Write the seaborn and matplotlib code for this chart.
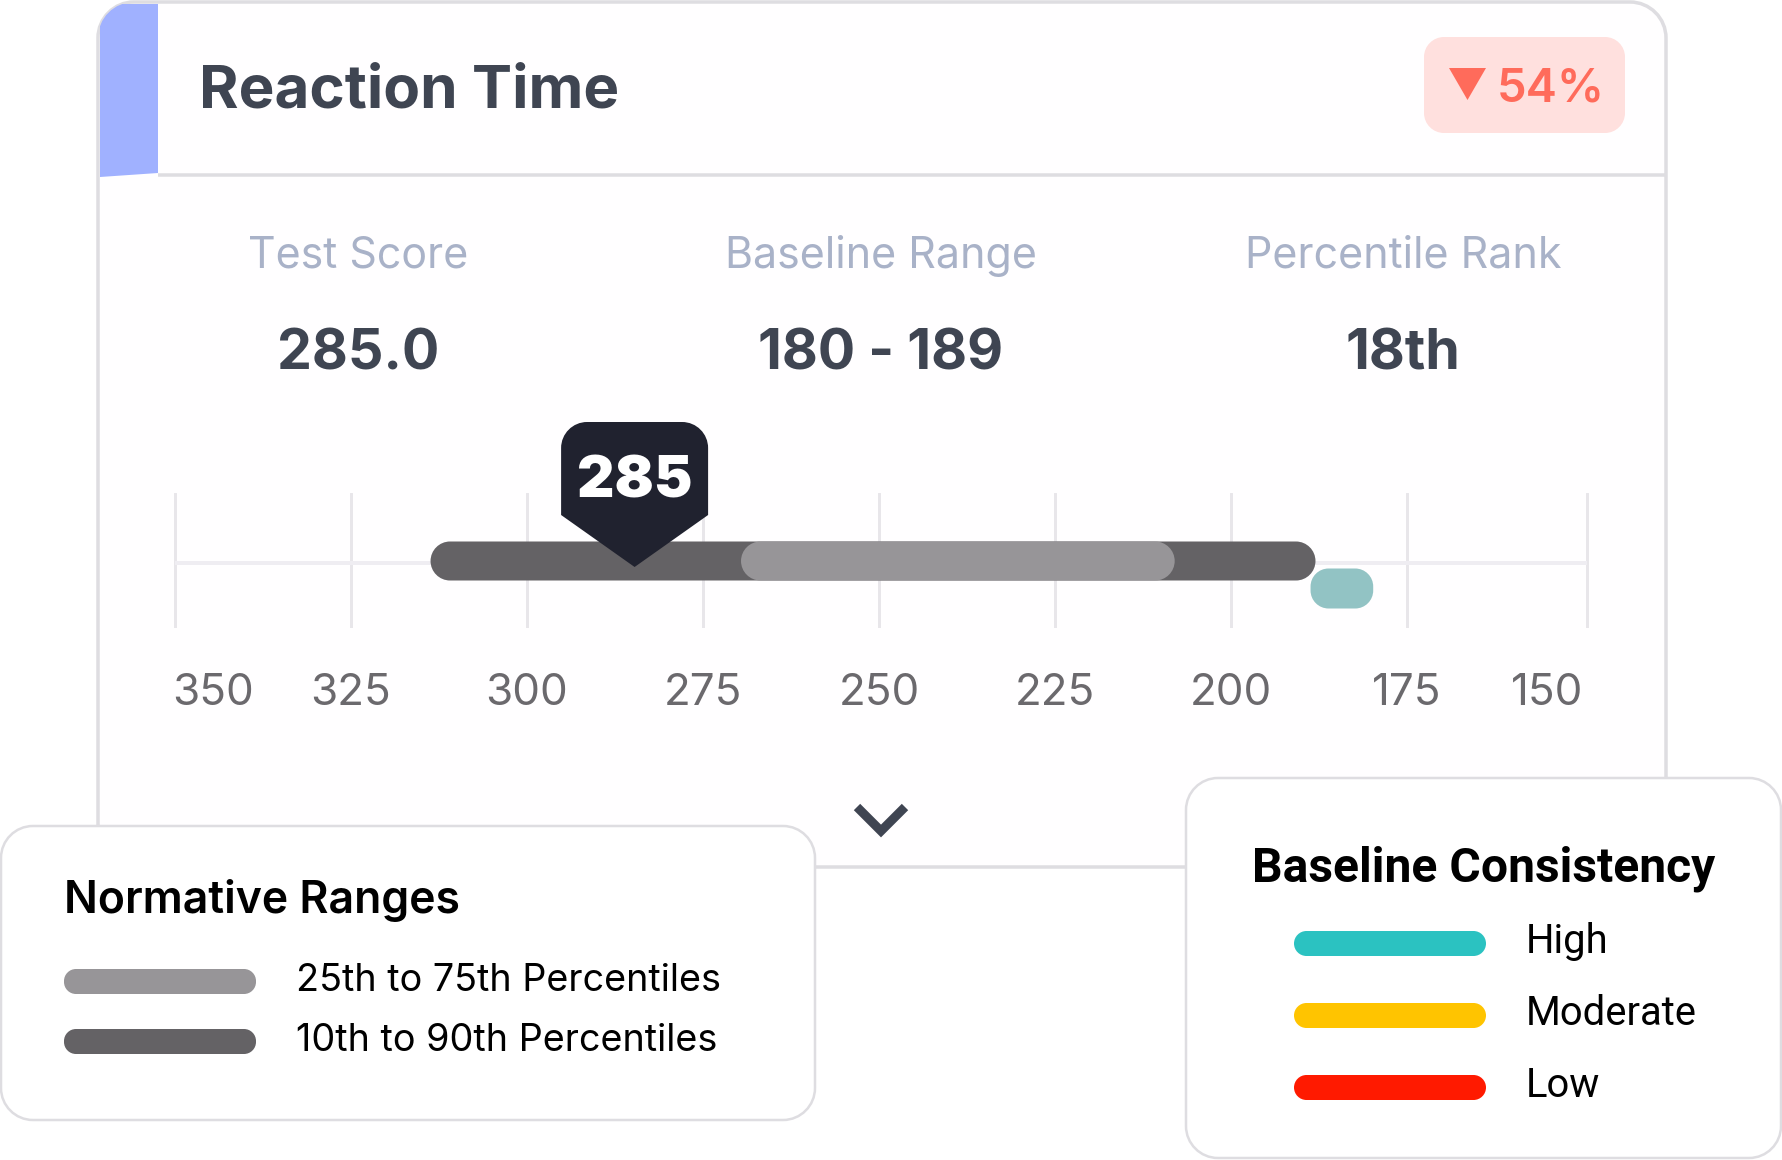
import matplotlib
matplotlib.use("Agg")
import matplotlib.pyplot as plt
from matplotlib.patches import Polygon, PathPatch
from matplotlib.path import Path
from matplotlib.transforms import ScaledTranslation
import pandas as pd
import seaborn as sns

# ---- data ----
title = "Reaction Time"
change_label = "54%"
stat_labels = ["Test Score", "Baseline Range", "Percentile Rank"]
stat_values = ["285.0", "180 - 189", "18th"]
tick_positions = [350, 325, 300, 275, 250, 225, 200, 175, 149.5]
tick_labels = ["350", "325", "300", "275", "250", "225", "200", "175", "150"]
p10_90 = [313.7, 188.0]
p25_75 = [269.6, 208.0]
baseline_range = [188.7, 179.8]
test_score = 285
norm_title = "Normative Ranges"
norm_labels = ["25th to 75th Percentiles", "10th to 90th Percentiles"]
cons_title = "Baseline Consistency"
cons_labels = ["High", "Moderate", "Low"]
cons_colors = ["#2BC2C1", "#FFC400", "#FF1A00"]

sns.set_theme(style="white")

W, H, DPI = 1783, 1160, 100
fig = plt.figure(figsize=(W/DPI, H/DPI), dpi=DPI, facecolor="white")
px = 72/DPI  # points per pixel
LINE = "#DEDDE1"
K = 0.5523

def px_axes(z):
    a = fig.add_axes([0, 0, 1, 1], zorder=z)
    a.set_xlim(0, W); a.set_ylim(H, 0); a.axis("off"); a.patch.set_alpha(0)
    return a

def round_path(x0, y0, x1, y1, rx, ry):
    kx, ky = rx*(1-K), ry*(1-K)
    v = [(x0+rx, y0), (x1-rx, y0),
         (x1-kx, y0), (x1, y0+ky), (x1, y0+ry), (x1, y1-ry),
         (x1, y1-ky), (x1-kx, y1), (x1-rx, y1), (x0+rx, y1),
         (x0+kx, y1), (x0, y1-ky), (x0, y1-ry), (x0, y0+ry),
         (x0, y0+ky), (x0+kx, y0), (x0+rx, y0), (x0+rx, y0)]
    c = [Path.MOVETO, Path.LINETO] + [Path.CURVE4]*3 + [Path.LINETO] + [Path.CURVE4]*3 + [Path.LINETO] \
        + [Path.CURVE4]*3 + [Path.LINETO] + [Path.CURVE4]*3 + [Path.CLOSEPOLY]
    return Path(v, c)

def rbox(a, x0, y0, x1, y1, r, fc, ec="none", lw=0, z=2):
    p = PathPatch(round_path(x0, y0, x1, y1, r, r), fc=fc, ec=ec, lw=lw*px, zorder=z)
    a.add_patch(p)
    return p

bg = px_axes(0)
fg = px_axes(2)

# ---- main card ----
card = rbox(bg, 98, 2, 1666, 867, 36, "#FFFEFF", LINE, 3.5, z=1)
band = Polygon([(100, 4), (158, 4), (158, 173), (100, 177)], fc="#A0B1FF", ec="none", zorder=2)
bg.add_patch(band); band.set_clip_path(card)
bg.plot([158, 1666], [175, 175], color=LINE, lw=3.5*px, zorder=3, solid_capstyle="butt")
bg.text(199, 108, title, fontfamily="Inter", fontweight="bold", fontsize=60.2*px, color="#3F4552", va="baseline")
rbox(bg, 1424, 37, 1625, 133, 20, "#FFE0DE")
bg.add_patch(Polygon([(1449, 68), (1486, 68), (1467.5, 100)], fc="#FF6B5B", ec="none", zorder=3))
bg.text(1497, 102, change_label, fontfamily="Inter", fontweight="semibold", fontsize=47*px, color="#FF6B5B", va="baseline")
for cx, lab, val in zip([358, 881, 1403], stat_labels, stat_values):
    bg.text(cx, 268, lab, fontfamily="Inter", fontsize=43*px, color="#A9B2C8", ha="center", va="baseline")
    bg.text(cx, 369, val, fontfamily="Inter", fontweight="bold", fontsize=55.5*px, color="#3F4552", ha="center", va="baseline")
bg.plot([857, 881, 905], [807, 831, 807], color="#3F4552", lw=9*px, solid_joinstyle="miter", solid_capstyle="butt", zorder=3)

# ---- scale axes ----
PX_PER_VAL = 7.04
ROW_PX = 27.5
ROW0_PX = 561
xl, xr = 175 + (350-352)*PX_PER_VAL, 175 + (350-148)*PX_PER_VAL
ytop, ybot = 493, 628
ax = fig.add_axes([xl/W, 1-ybot/H, (xr-xl)/W, (ybot-ytop)/H], zorder=1)
ax.patch.set_alpha(0)

def ranges(values, row):
    hi, lo = max(values), min(values)
    return pd.DataFrame({"row": [row], "span": [hi-lo], "start": [lo]})

rows = ["Normative", "Baseline"]
bar_specs = [(p10_90, rows[0], "#646265", 19.5, 39), (p25_75, rows[0], "#979598", 19.5, 39),
             (baseline_range, rows[1], "#92C3C4", 18, 40)]
for vals, row, col, rad, hpx in bar_specs:
    d = ranges(vals, row)
    sns.barplot(data=d, x="span", y="row", order=rows, left=d["start"].iloc[0], color=col, saturation=1,
                width=hpx/ROW_PX, orient="h", ax=ax, linewidth=0, errorbar=None, zorder=3)
radii = [s[3] for s in bar_specs]
cols = [s[2] for s in bar_specs]
bars = list(ax.patches)
for b, rad, col in zip(bars, radii, cols):
    x0, y0, w, h = b.get_x(), b.get_y(), b.get_width(), b.get_height()
    b.remove()
    ax.add_patch(PathPatch(round_path(x0, y0, x0+w, y0+h, rad/PX_PER_VAL, rad/ROW_PX), fc=col, ec="none", zorder=3))
ax.hlines((563-ROW0_PX)/ROW_PX, tick_positions[0], tick_positions[-1], color="#EFEDF2", lw=4*px, zorder=1)
ax.set_xlim(352, 148)
ax.set_ylim((ybot-ROW0_PX)/ROW_PX, (ytop-ROW0_PX)/ROW_PX)
ax.set_xticks(tick_positions)
ax.set_xticklabels(tick_labels, fontfamily="Inter", fontsize=44*px, color="#6B696D")
ax.set_yticks([]); ax.set_xlabel(""); ax.set_ylabel("")
ax.set_axisbelow(True)
ax.grid(axis="x", color="#E8E6EA", lw=3*px)
ax.grid(axis="y", visible=False)
ax.tick_params(axis="x", length=0, pad=45*px)
sns.despine(ax=ax, left=True, bottom=True)
labs = ax.get_xticklabels()
labs[0].set_ha("left")
labs[0].set_transform(labs[0].get_transform() + ScaledTranslation(-3/DPI, 0, fig.dpi_scale_trans))
labs[-1].set_ha("right")
labs[-1].set_transform(labs[-1].get_transform() + ScaledTranslation(-3/DPI, 0, fig.dpi_scale_trans))

# ---- score marker, positioned by the value scale ----
tip = ax.transData.transform((test_score, 0))[0] + 2
Rp = 26
hw = 73.5
verts = [(tip, 567), (tip-hw, 515), (tip-hw, 422+Rp), (tip-hw, 422+Rp*(1-K)), (tip-hw+Rp*(1-K), 422), (tip-hw+Rp, 422),
         (tip+hw-Rp, 422), (tip+hw-Rp*(1-K), 422), (tip+hw, 422+Rp*(1-K)), (tip+hw, 422+Rp), (tip+hw, 515), (tip, 567)]
codes = [Path.MOVETO, Path.LINETO, Path.LINETO, Path.CURVE4, Path.CURVE4, Path.CURVE4, Path.LINETO,
         Path.CURVE4, Path.CURVE4, Path.CURVE4, Path.LINETO, Path.CLOSEPOLY]
fg.add_patch(PathPatch(Path(verts, codes), fc="#20222F", ec="none", zorder=3))
fg.text(tip, 498, str(test_score), fontfamily="Inter", fontweight="black", fontsize=58*px, color="white", ha="center", va="baseline", zorder=4)

# ---- normative legend ----
rbox(fg, 1, 826, 815, 1120, 32, "white", LINE, 2.5)
fg.text(64, 913, norm_title, fontfamily="Inter", fontweight="semibold", fontsize=44.6*px, color="black", va="baseline", zorder=4)
for (y0, lab, col) in zip([969, 1029], norm_labels, ["#979598", "#646265"]):
    rbox(fg, 64, y0, 256, y0+25, 12, col, z=4)
    fg.text(296, y0+22, lab, fontfamily="Inter", fontsize=37.8*px, color="black", va="baseline", zorder=4)

# ---- consistency legend ----
rbox(fg, 1186, 778, 1781, 1158, 32, "white", LINE, 2.5)
fg.text(1252, 881, cons_title, fontfamily="Roboto", fontweight="bold", fontsize=48*px, color="black", va="baseline", zorder=4)
for (y0, lab, col) in zip([931, 1003, 1075], cons_labels, cons_colors):
    rbox(fg, 1294, y0, 1486, y0+25, 12.5, col, z=4)
    fg.text(1526, y0+22, lab, fontfamily="Roboto", fontsize=40*px, color="black", va="baseline", zorder=4)

fig.savefig("out.png", dpi=DPI, facecolor="white")
